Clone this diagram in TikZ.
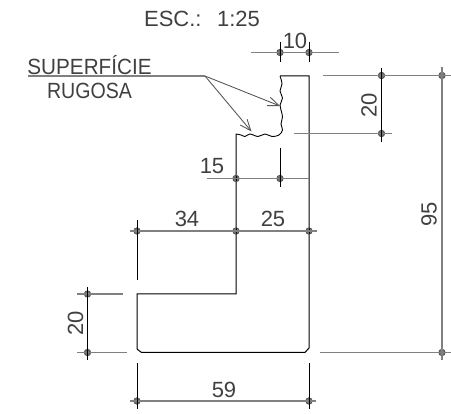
\documentclass[tikz,border=0pt]{standalone}
\usepackage{fontspec}
\setmainfont{Liberation Sans}
\usetikzlibrary{arrows.meta}
\usetikzlibrary{positioning}

\begin{document}
\begin{tikzpicture}[
            x=1pt, y=-1pt,
            outline/.style={draw=black, line width=1pt},
            dimline/.style={draw=black!50, line width=1.1pt},
            tick/.style={draw=black, line width=0.8pt},
            leader/.style={draw=black!65, line width=0.9pt, -{Straight Barb[length=11pt,width=9pt]}},
            dimdot/.style={circle, draw=black!70, fill=black!55, line width=0.7pt, minimum size=6.5pt, inner sep=0pt,
                path picture={\fill[black] (path picture bounding box.center) circle (1.2pt);
                    \draw[black, line width=0.4pt] (path picture bounding box.west) -- (path picture bounding box.east);
                    \draw[black, line width=0.4pt] (path picture bounding box.north) -- (path picture bounding box.south);}},
            label/.style={inner sep=0pt, text=black!75, font=\fontsize{22}{22}\selectfont}
        ]
            \useasboundingbox (0,0) rectangle (451,414);

            % outline of the section
            \draw[outline] (280,76) -- (309,76) -- (309,348) -- (305,352.5) -- (141.5,352.5) -- (137,349)
                -- (137,294) -- (236,294) -- (236,134);
            \draw[outline, line width=0.9pt] plot[smooth, tension=0.6] coordinates {
                (236,134) (241,135) (245,136.5) (250,134) (258,136.5) (265,134) (272,136.5) (279,135) (282.5,130)
                (281,124) (282.5,117) (281,110) (280,105) (282.5,98) (280,91) (282,84) (280,76)};

            % dimension points
            \foreach \name/\px/\py in {a/280/52.5, b/309/52.5, c/381.5/75.5, d/381.5/133.5, e/442/75.5, f/442/352.5,
                    g/236/178.5, h/280/178.5, i/137/231, j/236/231, k/309/231,
                    l/87.5/294, m/87.5/352.5, n/137/401, o/309/401}
                \node[dimdot] (\name) at (\px,\py) {};

            % dimension lines
            \draw[dimline] (251,52.5) -- (339,52.5);
            \draw[dimline] (323,75.5) -- (451,75.5);
            \draw[dimline] (294,133.5) -- (392,133.5);
            \draw[dimline] (320,352.5) -- (451,352.5);
            \draw[dimline] (207,178.5) -- (309,178.5);
            \draw[dimline] (130,231) -- (317,231);
            \draw[dimline] (77,294) -- (123,294);
            \draw[dimline] (77,352.5) -- (127,352.5);
            \draw[dimline] (130,401) -- (316,401);
            \draw[dimline] (442,67) -- (442,360);

            % ticks
            \draw[tick] (280,42) -- (280,62);
            \draw[tick] (309,42) -- (309,62);
            \draw[tick] (381.5,68) -- (381.5,142);
            \draw[tick] (280,148) -- (280,187);
            \draw[tick] (137,220) -- (137,280);
            \draw[tick] (87.5,287) -- (87.5,360);
            \draw[tick] (137,363) -- (137,409);
            \draw[tick] (309,363) -- (309,409);

            % leader of the rough surface
            \coordinate (bend) at (205,76);
            \coordinate (roughA) at (280,106);
            \coordinate (roughB) at (251.5,131.5);
            \draw[dimline] (28,76) -- (bend);
            \draw[leader] (bend) -- (roughA);
            \draw[leader] (bend) -- (roughB);

            % labels
            \node[label] (scale) at (202,18.5) {ESC.: \,\,1:25};
            \node[label] (surfA) at (89.5,65.5) {\scalebox{0.94}[1]{SUPERFÍCIE}};
            \node[label] (surfB) at (89.5,90.5) {\scalebox{0.89}[1]{RUGOSA}};
            \node[label] (dimTen) at (295,41) {10};
            \node[label, rotate=90] (dimRough) at (369,105) {20};
            \node[label, rotate=90] (dimTotal) at (429,214) {95};
            \node[label] (dimWall) at (212,166) {15};
            \node[label] (dimLeft) at (187,219) {34};
            \node[label] (dimRight) at (273,219) {25};
            \node[label, rotate=90] (dimFoot) at (75.5,323) {20};
            \node[label] (dimBase) at (224,389.5) {59};
        \end{tikzpicture}
\end{document}
